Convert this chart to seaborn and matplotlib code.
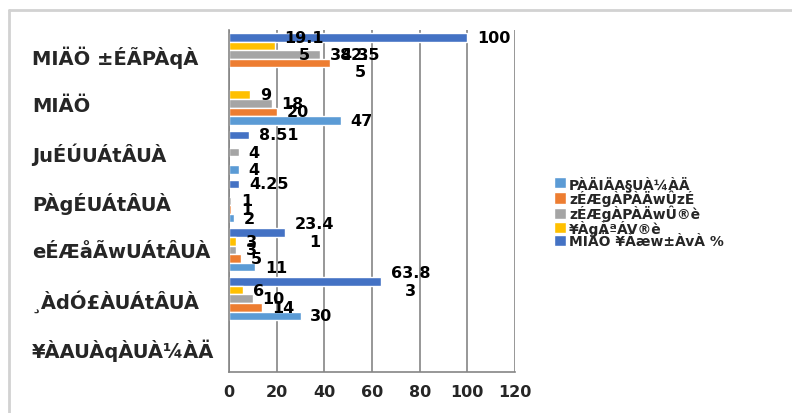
import numpy as np
import pandas as pd
import seaborn as sns
import matplotlib
matplotlib.use("Agg")
import matplotlib.pyplot as plt
from matplotlib.lines import Line2D

# Categories, top to bottom
categories = [
    "MIÄÖ ±ÉÃPÀqÀ",
    "MIÄÖ",
    "JuÉÚUÁtÂUÀ",
    "PÀgÉUÁtÂUÀ",
    "eÉÆåÃwUÁtÂUÀ",
    "¸ÀdÓ£ÀUÁtÂUÀ",
    "¥ÀAUÀqÀUÀ¼ÀÄ",
]

# Series (legend order); NaN = no bar
series_names = [
    "PÀÄIÄA§UÀ¼ÀÄ",
    "zÉÆgÀPÀÄwÛzÉ",
    "zÉÆgÀPÀÄwÛ®è",
    "¥ÀgÀªÁV®è",
    "MIÄÖ ¥Àæw±ÀvÀ %",
]
nan = np.nan
total_count = [nan, 47, 4, 2, 11, 30, nan]
yes_count = [42.55, 20, nan, 1, 5, 14, nan]
no_count = [38.3, 18, 4, 1, 3, 10, nan]
other_count = [19.15, 9, nan, nan, 3, 6, nan]
percent_total = [100, nan, 8.51, 4.25, 23.41, 63.83, nan]

series_values = [total_count, yes_count, no_count, other_count, percent_total]
series_colors = ["#5B9BD5", "#ED7D31", "#A5A5A5", "#FFC000", "#4472C4"]

x_ticks = [0, 20, 40, 60, 80, 100, 120]

rows = []
for name, vals in zip(series_names, series_values):
    for cat, v in zip(categories, vals):
        if not np.isnan(v):
            rows.append({"category": cat, "series": name, "value": v})
df = pd.DataFrame(rows)

sns.set_style("white")
plt.rcParams["font.family"] = ["DejaVu Sans"]
plt.rcParams["font.weight"] = "bold"

W, H = 792, 414
fig = plt.figure(figsize=(W / 100, H / 100), dpi=100)
ax = fig.add_axes([229 / W, 1 - 373 / H, (515 - 229) / W, (373 - 31) / H])

# Bars stack top-down in reverse legend order within each group
hue_order = series_names[::-1]
palette = dict(zip(series_names, series_colors))

sns.barplot(
    data=df, y="category", x="value", hue="series",
    order=categories, hue_order=hue_order, palette=palette,
    orient="h", width=0.88, dodge=True, saturation=1,
    errorbar=None, ax=ax, legend=True,
)


def fmt(v):
    s = f"{v:g}"
    return s[:4] + "\n" + s[4:] if len(s) > 4 else s


for cont in ax.containers:
    labels = [fmt(b.get_width()) for b in cont]
    texts = ax.bar_label(cont, labels=labels, padding=7, fontsize=11.5,
                         fontweight="bold", color="black")
    for t in texts:
        t.set_multialignment("center")

ax.set_xlim(0, 120)
ax.set_ylim(len(categories) - 0.5, -0.5)
ax.set_xticks(x_ticks)
ax.set_xticklabels([str(t) for t in x_ticks], fontsize=11.5, fontweight="bold")
ax.set_xlabel("")
ax.set_ylabel("")

ax.grid(axis="x", color="#858585", linewidth=1.2)
ax.grid(axis="y", visible=False)
ax.set_axisbelow(True)

for side in ["top", "right"]:
    ax.spines[side].set_visible(False)
for side in ["left", "bottom"]:
    ax.spines[side].set_color("#858585")
    ax.spines[side].set_linewidth(1.2)

# Category labels left-aligned in a column
ax.tick_params(axis="y", which="major", length=0, pad=(229 - 32) * 0.72)
for lbl in ax.get_yticklabels():
    lbl.set_horizontalalignment("left")
    lbl.set_fontsize(14)
    lbl.set_fontweight("bold")
ax.set_yticks(np.arange(-0.5, len(categories), 1.0), minor=True)
ax.tick_params(axis="y", which="minor", length=5, width=1.2, color="#858585",
               direction="out")
ax.tick_params(axis="x", length=3, width=1.2, color="#858585", direction="out",
               pad=6)

handles, labels = ax.get_legend_handles_labels()
lookup = dict(zip(labels, handles))
leg = fig.legend(
    [lookup[n] for n in series_names], series_names,
    loc="upper left", bbox_to_anchor=(547 / W, 1 - 169 / H),
    frameon=False, handlelength=0.85, handleheight=0.85,
    handletextpad=0.25, labelspacing=-0.1, borderpad=0,
    prop={"weight": "bold", "size": 10},
)
ax.get_legend().remove()

# Chart frame: top and left edges
frame_kw = dict(transform=fig.transFigure, color="#d2d2d2", linewidth=2)
fig.lines.append(Line2D([9 / W, 1.0], [1 - 11 / H, 1 - 11 / H], **frame_kw))
fig.lines.append(Line2D([9 / W, 9 / W], [0.0, 1 - 11 / H], **frame_kw))

fig.savefig("out.png", dpi=100, facecolor="white")
